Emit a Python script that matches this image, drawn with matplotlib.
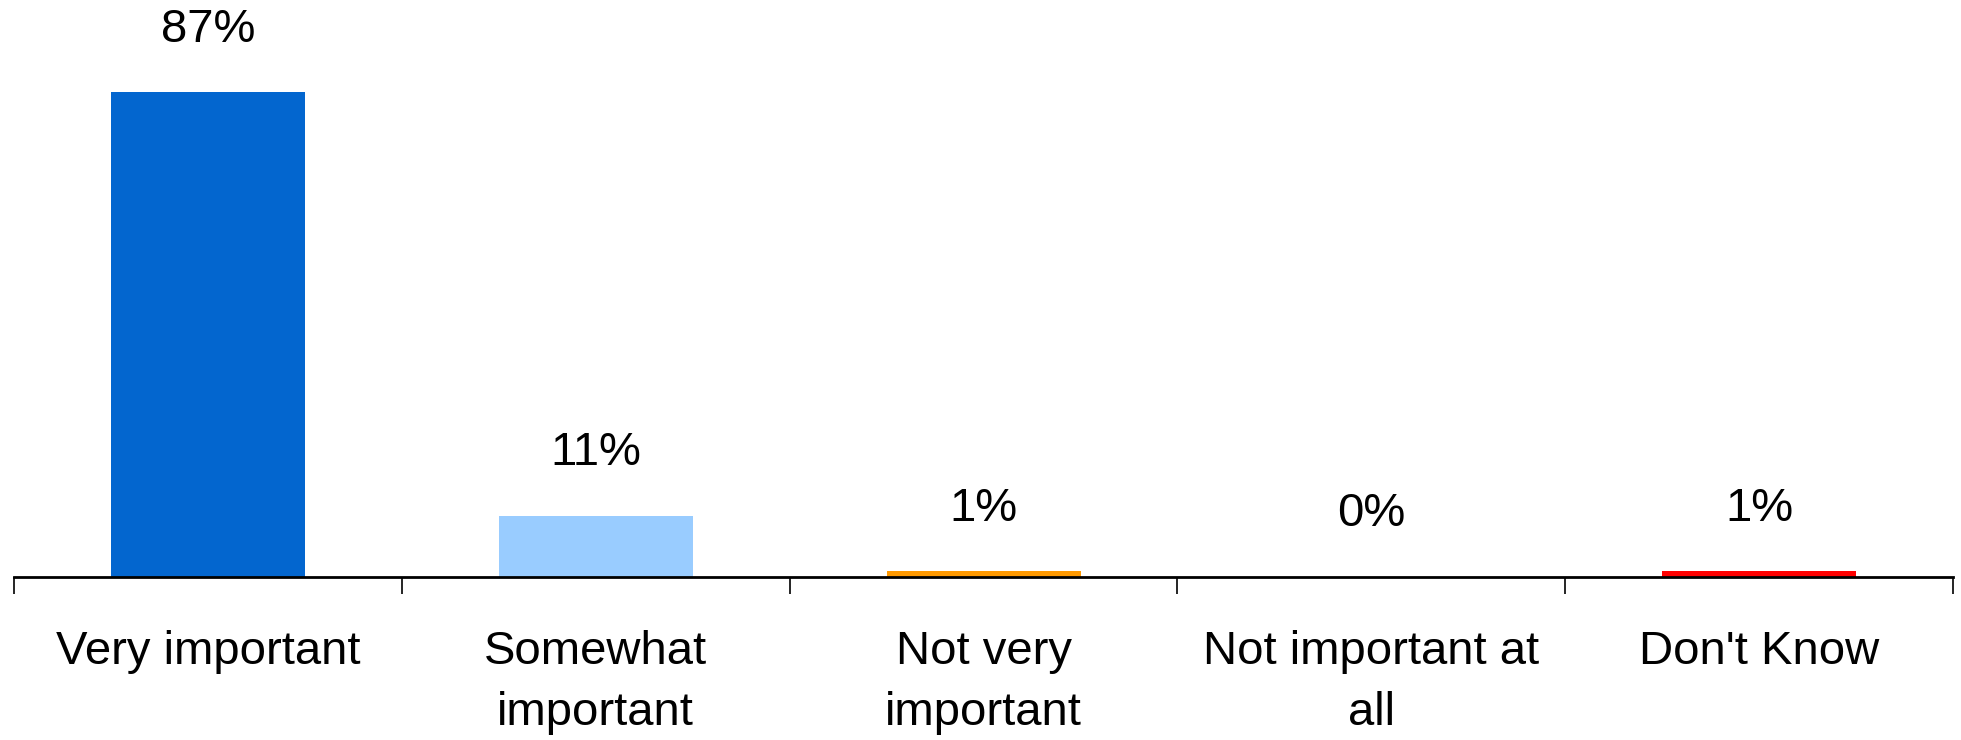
import numpy as np
import matplotlib
matplotlib.use("Agg")
import matplotlib.pyplot as plt

plt.rcParams["font.family"] = ["Liberation Sans", "DejaVu Sans"]

categories = ["Very important", "Somewhat\nimportant", "Not very\nimportant",
              "Not important at\nall", "Don't Know"]
values = [87, 11, 1, 0, 1]
labels = ["87%", "11%", "1%", "0%", "1%"]
colors = ["#0366CF", "#99CCFF", "#FF9900", "#0366CF", "#FF0000"]

fig = plt.figure(figsize=(19.61, 7.40), dpi=100)
ax = fig.add_axes([0.0071, 0.2203, 0.9889, 0.7797])
x = np.arange(len(categories))
ax.bar(x, values, width=0.5, color=colors, linewidth=0)
for xi, v, lab in zip(x, values, labels):
    ax.annotate(lab, (xi, v), xytext=(0, 45), textcoords="offset points",
                ha="center", va="center", fontsize=34)

ax.set_xlim(-0.5, len(categories) - 0.5)
ax.set_ylim(0, 103.6)
ax.set_xticks(x)
ax.set_xticklabels(categories, fontsize=34, linespacing=1.5)
ax.tick_params(axis="x", which="major", length=0, pad=38)
ax.set_xticks(np.arange(len(categories) + 1) - 0.5, minor=True)
ax.tick_params(axis="x", which="minor", length=12, width=1.2, direction="out")
ax.set_yticks([])
for s in ["top", "left", "right"]:
    ax.spines[s].set_visible(False)
ax.spines["bottom"].set_linewidth(2)
fig.savefig("out.png", dpi=100)
